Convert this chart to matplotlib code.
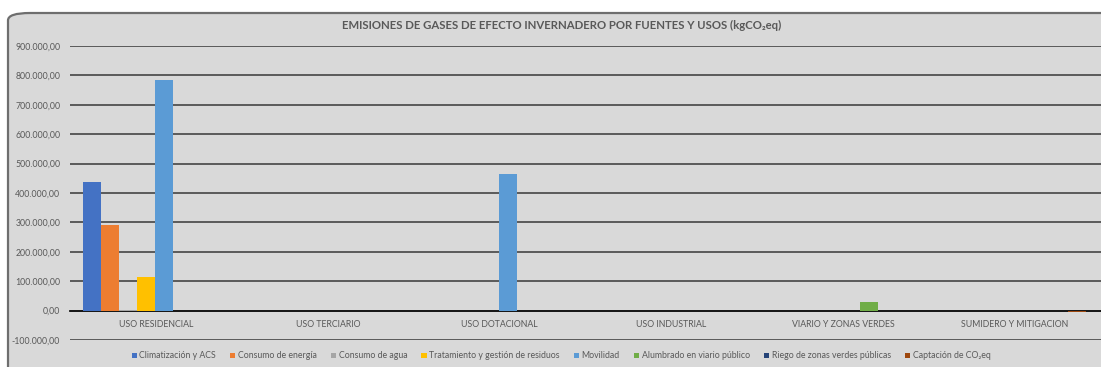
import matplotlib
matplotlib.use('Agg')
import matplotlib.pyplot as plt
from matplotlib.patches import FancyBboxPatch
from matplotlib.ticker import FuncFormatter, MultipleLocator

plt.rcParams['font.family'] = ['Lato', 'DejaVu Sans']

# Data (kgCO2eq)
categories = ['USO RESIDENCIAL', 'USO TERCIARIO', 'USO DOTACIONAL',
              'USO INDUSTRIAL', 'VIARIO Y ZONAS VERDES', 'SUMIDERO Y MITIGACION']
series_names = ['Climatización y ACS', 'Consumo de energía', 'Consumo de agua',
                'Tratamiento y gestión de residuos', 'Movilidad',
                'Alumbrado en viario público', 'Riego de zonas verdes públicas',
                'Captación de CO₂eq']
climatizacion = [436000, 0, 0, 0, 0, 0]
consumo_energia = [290000, 0, 0, 0, 0, 0]
consumo_agua = [3000, 0, 0, 0, 0, 0]
tratamiento = [113000, 0, 0, 0, 0, 0]
movilidad = [783000, 0, 466000, 0, 0, 0]
alumbrado = [0, 0, 0, 0, 28000, 0]
riego = [0, 0, 0, 0, 0, 0]
captacion = [0, 0, 0, 0, 0, -5500]
colors = ['#4472C4', '#ED7D31', '#A5A5A5', '#FFC000', '#5B9BD5',
          '#70AD47', '#264478', '#9E480E']

series = [climatizacion, consumo_energia, consumo_agua, tratamiento,
          movilidad, alumbrado, riego, captacion]

W, H = 1101, 367
fig = plt.figure(figsize=(W / 100, H / 100), dpi=100)

# gray chart area with rounded border (cropped on the right/bottom)
bg = FancyBboxPatch((8 / W, -0.2), 1.2, 1.2 - 13 / H,
                    boxstyle='round,pad=0,rounding_size=0.02',
                    transform=fig.transFigure, facecolor='#D9D9D9',
                    edgecolor='#6E6E6E', linewidth=1.6, zorder=-5)
fig.patches.append(bg)

ax = fig.add_axes([70 / W, 1 - 340 / H, (W - 70) / W, (340 - 46) / H])
ax.set_facecolor('none')
ax.set_zorder(2)

bar_w = 0.1047
start = -0.5 + 0.0756
x = list(range(len(categories)))
for i, (vals, name, col) in enumerate(zip(series, series_names, colors)):
    ax.bar([xi + start + i * bar_w for xi in x], vals, width=bar_w,
           align='edge', color=col, label=name, zorder=3)

ax.set_xlim(-0.5, len(categories) - 0.5)
ax.set_ylim(-100000, 900000)
ax.yaxis.set_major_locator(MultipleLocator(100000))


def fmt(v, pos):
    s = f'{v:,.2f}'
    return s.replace(',', 'X').replace('.', ',').replace('X', '.')


ax.yaxis.set_major_formatter(FuncFormatter(fmt))
ax.grid(axis='y', color='#505050', linewidth=1.3, zorder=1)
ax.set_axisbelow(True)
for s in ['top', 'right', 'left']:
    ax.spines[s].set_visible(False)
# category axis sits on the zero line, like in Excel
ax.spines['bottom'].set_position(('data', 0))
ax.spines['bottom'].set_color('#111111')
ax.spines['bottom'].set_linewidth(1.3)
ax.spines['bottom'].set_zorder(2.5)

ax.set_xticks(x)
ax.set_xticklabels(categories)
ax.tick_params(axis='x', length=0, pad=7, labelsize=6.3, labelcolor='#595959')
ax.tick_params(axis='y', length=0, pad=7, labelsize=6.3, labelcolor='#595959')

fig.text(562 / W, 1 - 25 / H,
         'EMISIONES DE GASES DE EFECTO INVERNADERO POR FUENTES Y USOS (kgCO₂eq)',
         ha='center', va='center', fontsize=8.2, fontweight='bold', color='#595959')

leg = fig.legend(loc='center', bbox_to_anchor=(561 / W, 1 - 356 / H), ncol=8,
                 frameon=False, fontsize=6.3, handlelength=0.6, handleheight=0.6,
                 handletextpad=0.3, columnspacing=1.6, labelcolor='#595959')

fig.savefig('out.png', dpi=100)
